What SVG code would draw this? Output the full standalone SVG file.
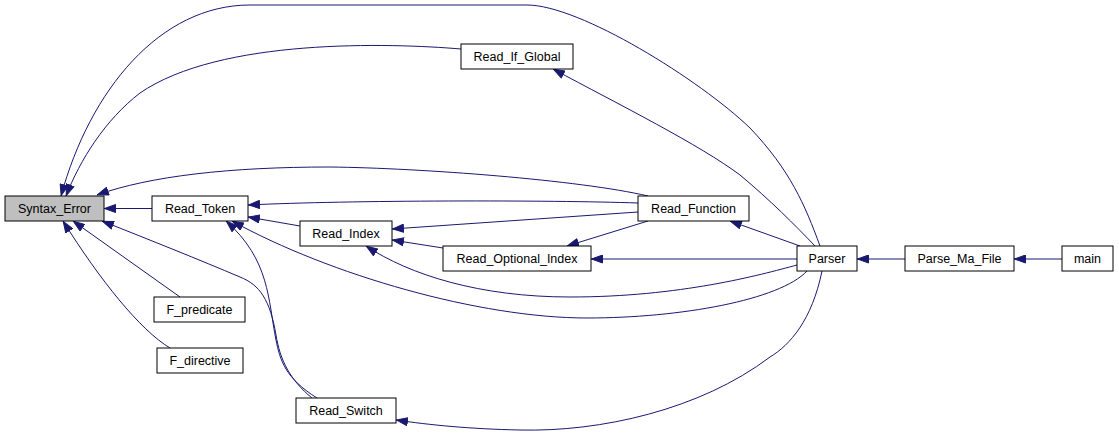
<svg xmlns="http://www.w3.org/2000/svg" width="1119" height="436" viewBox="0 0 1119 436">
<style>
.node rect{fill:#fff;stroke:#000;stroke-width:1}
.node text{font-family:"Liberation Sans",Arial,sans-serif;font-size:12.5px;fill:#000;text-anchor:middle}
.edges path{fill:none;stroke:#191970;stroke-width:1;marker-end:url(#ah)}
</style>
<defs>
<marker id="ah" markerUnits="userSpaceOnUse" markerWidth="12" markerHeight="9" refX="12" refY="4.5" orient="auto" viewBox="0 0 12 9">
<path d="M0.5,0.5 L11.5,4.5 L0.5,8.5 z" fill="#191970" stroke="#191970" stroke-width="1"/>
</marker>
</defs>
<rect width="1119" height="436" fill="#fff"/>
<g id="edges" class="edges">
<path d="M152,208.5 L104,208.5"/>
<path d="M461,49 C390,43 220,38 140,93 C105,120 80,160 66,196"/>
<path d="M820,246 C805,205 790,170 750,128 C700,80 580,5 527,5 L250,5 C160,5 90,90 61,196"/>
<path d="M648,196 C580,180 420,168 330,167 C230,167 150,176 97,195"/>
<path d="M638,203 C550,200 350,200 248,205"/>
<path d="M300,226 L248,217"/>
<path d="M638,212 L392,229"/>
<path d="M443,248 L392,240"/>
<path d="M648,221 L567,246"/>
<path d="M797,259 L591,259"/>
<path d="M797,265 C760,275 680,297 570,297 C480,297 410,275 366,246"/>
<path d="M807,271 C780,300 680,318 587,318 C480,318 330,275 232,221"/>
<path d="M317,398 C285,378 280,360 276,340 C268,300 270,260 226,221"/>
<path d="M312,398 C290,380 280,360 276,335 C270,300 260,285 240,277 C200,260 150,240 102,221"/>
<path d="M180,297 L73,221"/>
<path d="M170,348 C140,330 100,280 63,221"/>
<path d="M800,246 L730,221"/>
<path d="M815,246 C795,225 770,200 740,175 C700,145 620,105 553,69"/>
<path d="M822,271 C812,320 790,345 770,357 C700,410 600,432 520,430 C470,429 430,425 396,420"/>
<path d="M905,259 L857,259"/>
<path d="M1062,259 L1014,259"/>
</g>
<g id="Syntax_Error" class="node"><rect x="5" y="196" width="99" height="25" style="fill:#bfbfbf"/><text x="54.5" y="213">Syntax_Error</text></g>
<g id="Read_Token" class="node"><rect x="152" y="196" width="96" height="25"/><text x="200" y="213">Read_Token</text></g>
<g id="F_predicate" class="node"><rect x="154" y="297" width="91" height="25"/><text x="199.5" y="314">F_predicate</text></g>
<g id="F_directive" class="node"><rect x="157" y="348" width="86" height="25"/><text x="200" y="365">F_directive</text></g>
<g id="Read_Switch" class="node"><rect x="296" y="398" width="100" height="25"/><text x="346" y="415">Read_Switch</text></g>
<g id="Read_Index" class="node"><rect x="300" y="221" width="92" height="25"/><text x="346" y="238">Read_Index</text></g>
<g id="Read_Optional_Index" class="node"><rect x="443" y="246" width="148" height="25"/><text x="517" y="263">Read_Optional_Index</text></g>
<g id="Read_If_Global" class="node"><rect x="461" y="44" width="112" height="25"/><text x="517" y="61">Read_If_Global</text></g>
<g id="Read_Function" class="node"><rect x="638" y="196" width="111" height="25"/><text x="693.5" y="213">Read_Function</text></g>
<g id="Parser" class="node"><rect x="797" y="246" width="60" height="25"/><text x="827" y="263">Parser</text></g>
<g id="Parse_Ma_File" class="node"><rect x="905" y="246" width="109" height="25"/><text x="959.5" y="263">Parse_Ma_File</text></g>
<g id="main" class="node"><rect x="1062" y="246" width="51" height="25"/><text x="1087.5" y="263">main</text></g>
</svg>
